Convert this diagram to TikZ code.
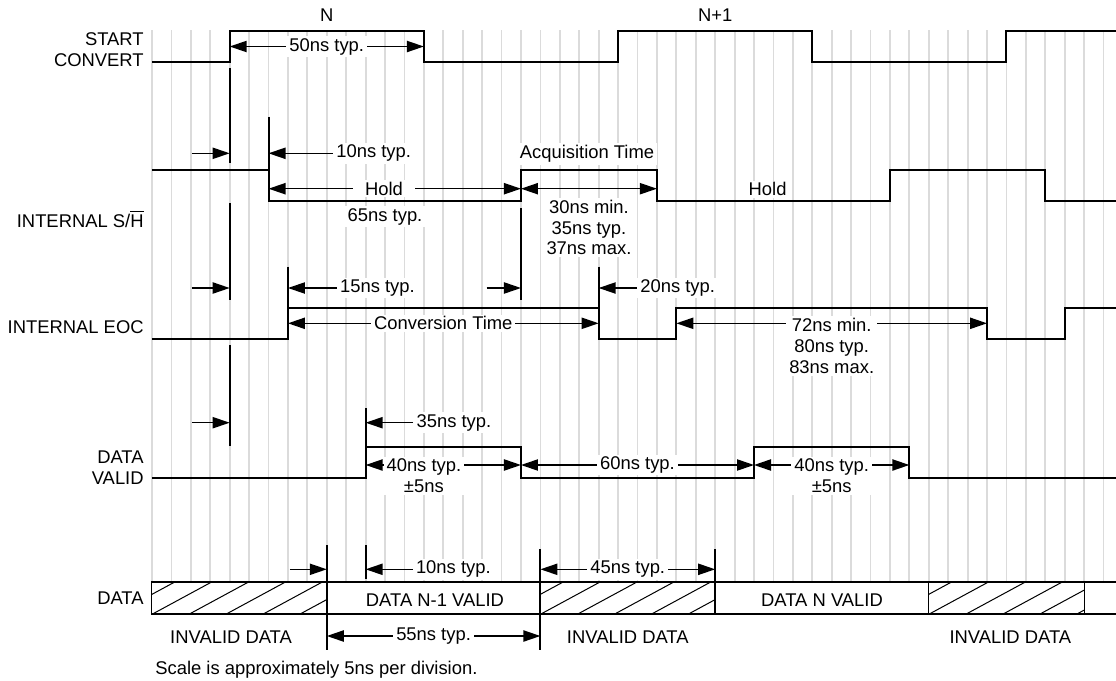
\documentclass[tikz,border=0pt]{standalone}
\usepackage{fontspec}
\setmainfont{Liberation Sans}
\usetikzlibrary{arrows.meta,positioning}

% hatched (invalid) stretch of the data bus
\newcommand\hatchbox[2]{%
  \begin{scope}
    \clip (#1,581.7) rectangle (#2,614.3);
    \foreach \k in {-2,...,6}
      \draw[hatch] ({#1+\k*1.9},614.3) -- ++(3.1,-32.6);
  \end{scope}
  \draw[hatch] (#1,581.7) rectangle (#2,614.3);}

\begin{document}
\begin{tikzpicture}[
    x=9.71pt, y=-0.5pt,
    every node/.style={font=\fontsize{9.2}{10.4}\selectfont},
    gridln/.style={gray!28, line width=0.9pt},
    sig/.style={line width=1pt},
    tick/.style={line width=1pt},
    dim/.style={line width=0.75pt, -{Triangle[length=8.5pt,width=5.6pt]}},
    dimboth/.style={line width=0.75pt, {Triangle[length=8.5pt,width=5.6pt]}-{Triangle[length=8.5pt,width=5.6pt]}},
    lbl/.style={fill=white, inner xsep=1.5pt, inner ysep=1pt},
    signame/.style={anchor=east, align=right, inner sep=0pt},
    hatch/.style={line width=0.5pt}
  ]
  \useasboundingbox (-7.827,0) rectangle (49.64,681);

  % grid, one division = 5ns
  \foreach \i in {0,...,49}
    \draw[gridln] (\i,30) -- (\i,581.7);

  % signal names
  \node[signame] (sc) at (-0.41,50) {START\\CONVERT};
  \node[signame] (sh) at (-0.41,219) {INTERNAL S/$\overline{\mbox{H}}$};
  \node[signame] (eoc) at (-0.41,327) {INTERNAL EOC};
  \node[signame] (dv) at (-0.41,467.5) {DATA\\VALID};
  \node[signame] (data) at (-0.41,598) {DATA};

  % waveforms
  \draw[sig] (0,62) -| (4,31) -| (14,62) -| (24,31) -| (34,62) -| (44,31) -- (49.64,31);
  \draw[sig] (0,170) -| (6,200.7) -| (19,170) -| (26,200.7) -| (38,170) -| (46,200.7) -- (49.64,200.7);
  \draw[sig] (0,339) -| (7,307.7) -| (23,339) -| (27,307.7) -| (43,339) -| (47,307.7) -- (49.64,307.7);
  \draw[sig] (0,477.7) -| (11,446.7) -| (19,477.7) -| (31,446.7) -| (39,477.7) -- (49.64,477.7);

  % reference lines
  \draw[tick] (4,68) -- (4,163) (4,203) -- (4,300) (4,345) -- (4,446);
  \draw[tick] (6,116.7) -- (6,170);
  \draw[tick] (7,266.7) -- (7,307.7);
  \draw[tick] (19,208) -- (19,300);
  \draw[tick] (23,266.7) -- (23,307.7);
  \draw[tick] (11,408.3) -- (11,446.7);
  \draw[tick] (11,545) -- (11,579.3);
  \draw[tick] (9,545) -- (9,650);
  \draw[tick] (20,549.3) -- (20,650);
  \draw[tick] (29,549.3) -- (29,614.3);

  % start convert
  \node[lbl] (n) at (9,15) {N};
  \node[lbl] (n1) at (29,15) {N+1};
  \draw[dimboth] (4,46.5) -- node[lbl] (t50) {50ns typ.} (14,46.5);

  % sample/hold
  \draw[dim] (2.05,153.3) -- (4,153.3);
  \node[lbl, anchor=west] (t10) at (9.32,153.3) {10ns typ.};
  \draw[dim] (t10.west) -- (6,153.3);
  \draw[dimboth] (6,188.7) -- (19,188.7);
  \node[lbl, inner xsep=6pt] (hold1) at (11.95,188.7) {Hold};
  \node[lbl] (t65) at (12,216.7) {65ns typ.};
  \node[lbl] (acq) at (22.4,154) {Acquisition Time};
  \draw[dimboth] (19,188.7) -- (26,188.7);
  \node[lbl, align=center] (tacq) at (22.5,227.5) {30ns min.\\35ns typ.\\37ns max.};
  \node[lbl] (hold2) at (31.7,189.3) {Hold};

  % end of conversion
  \draw[dim] (2.05,288) -- (4,288);
  \node[lbl, anchor=west] (t15) at (9.51,288) {15ns typ.};
  \draw[dim] (t15.west) -- (7,288);
  \draw[dim] (17.23,288) -- (19,288);
  \node[lbl, anchor=west] (t20) at (24.97,288) {20ns typ.};
  \draw[dim] (t20.west) -- (23,288);
  \draw[dimboth] (7,323.3) -- node[lbl] (conv) {Conversion Time} (23,323.3);
  \draw[dimboth] (27,323.3) -- (43,323.3);
  \node[lbl, align=center] (t72) at (35,346) {72ns min.\\80ns typ.\\83ns max.};

  % data valid
  \draw[dim] (2.05,422.7) -- (4,422.7);
  \node[lbl, anchor=west] (t35) at (13.45,422.7) {35ns typ.};
  \draw[dim] (t35.west) -- (11,422.7);
  \draw[dimboth] (11,465) -- (19,465);
  \node[lbl, align=center] (t40a) at (14,476) {40ns typ.\\±5ns};
  \draw[dimboth] (19,465) -- node[lbl] (t60) {60ns typ.} (31,465);
  \draw[dimboth] (31,465) -- (39,465);
  \node[lbl, align=center] (t40b) at (35,476) {40ns typ.\\±5ns};

  % data bus
  \draw[dim] (7.1,569.3) -- (9,569.3);
  \node[lbl, anchor=west] (t10b) at (13.42,569.3) {10ns typ.};
  \draw[dim] (t10b.west) -- (11,569.3);
  \draw[dimboth] (20,569.3) -- node[lbl] (t45) {45ns typ.} (29,569.3);
  \hatchbox{0}{9}
  \hatchbox{20}{29}
  \hatchbox{40}{48}
  \draw[sig] (0,581.7) -- (49.64,581.7) (0,614.3) -- (49.64,614.3);
  \node (dn1) at (14.57,600) {DATA N-1 VALID};
  \node (dn) at (34.5,600) {DATA N VALID};
  \node (inv1) at (4.07,636.7) {INVALID DATA};
  \node (inv2) at (24.5,636.7) {INVALID DATA};
  \node (inv3) at (44.2,636.7) {INVALID DATA};
  \draw[dimboth] (9,636) -- node[lbl] (t55) {55ns typ.} (20,636);
  \node[anchor=west, inner sep=0pt] (scale) at (0.15,670) {Scale is approximately 5ns per division.};
\end{tikzpicture}
\end{document}
